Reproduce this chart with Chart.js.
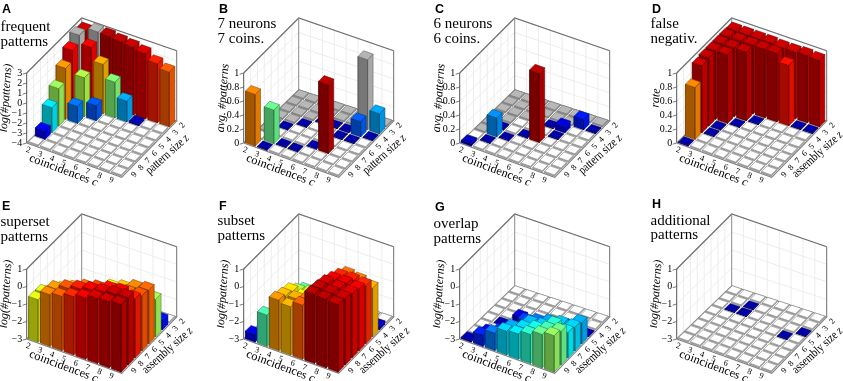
<!DOCTYPE html>
<html lang="en">
<head>
<meta charset="UTF-8">
<title>Pattern spectra</title>
<script src="https://cdn.jsdelivr.net/npm/chart.js"></script>
<style>
  html, body { margin: 0; padding: 0; background: #fff; overflow: hidden; width: 843px; height: 381px; }
  canvas { position: absolute; display: block; }
</style>
</head>
<body>
<script>
// Categories along the two floor axes
const coincidences = [2, 3, 4, 5, 6, 7, 8, 9];
const sizes = [2, 3, 4, 5, 6, 7, 8, 9];
const _ = null; // white tile, nothing found

// Series values: one row per size z (2..9), one column per coincidence c (2..9)
const valuesA = [
  [2.72, _, 2.97, 2.84, 2.72, 2.5, 1.9, 1.48],
  [_, 2.16, 0.9, -0.45, -1.93, -3.8, _, _],
  [2.15, -0.15, -2.5, _, _, _, _, _],
  [1.05, -2.3, _, _, _, _, _, _],
  [-0.28, _, _, _, _, _, _, _],
  [-1.5, _, _, _, _, _, _, _],
  [-3.15, _, _, _, _, _, _, _],
  [_, _, _, _, _, _, _, _]
];
const valuesB = [
  [_, _, _, _, _, _, _, _],
  [_, _, _, _, _, _, _, 0.29],
  [_, _, _, 0, 0, 0, 0.22, 0],
  [_, _, 0, _, _, 0, 0, _],
  [_, 0, _, _, _, _, _, _],
  [_, _, _, _, 0, 0.99, _, _],
  [_, 0.48, 0, 0, _, _, _, _],
  [0.74, 0, _, _, _, _, _, _]
];
const valuesC = [
  [_, _, _, _, _, _, _, _],
  [_, _, _, _, _, _, 0.15, 0],
  [_, _, _, _, 0, 0.09, _, _],
  [_, _, _, _, _, 0, _, _],
  [_, 0, _, 0, 0.99, _, _, _],
  [_, 0.27, 0, _, _, _, _, _],
  [_, 0, _, _, _, _, _, _],
  [0.04, _, _, _, _, _, _, _]
];
const valuesD = [
  [0.96, 0.96, 0.96, 0.96, 0.95, 0.95, 0.96, 0.95],
  [0.97, 0.97, 0.97, 0.97, 0.97, 0.86, 0, 0],
  [0.97, 0.97, 0.97, 0, _, _, _, _],
  [0.97, 0.97, 0, _, _, _, _, _],
  [0.97, 0, _, _, _, _, _, _],
  [0.95, 0, _, _, _, _, _, _],
  [0.74, _, _, _, _, _, _, _],
  [0, _, _, _, _, _, _, _]
];
const valuesE = [
  [_, _, _, _, _, _, _, _],
  [_, _, _, _, _, _, _, -2.45],
  [_, _, _, _, _, _, _, -0.85],
  [_, _, _, -0.85, -0.5, -0.3, -0.05, 0.08],
  [_, _, -0.9, -0.5, -0.3, -0.1, 0.07, 0.17],
  [_, -0.55, -0.25, 0.05, 0.25, 0.45, 0.55, 0.4],
  [-0.58, -0.12, 0.17, 0.39, 0.56, 0.7, 0.83, 0.88],
  [-0.57, -0.04, 0.11, 0.34, 0.53, 0.75, 0.81, 0.9]
];
const valuesF = [
  [_, _, _, _, _, _, _, _],
  [_, _, _, _, _, _, _, -2.8],
  [_, _, _, _, _, 0.05, -0.03, -0.21],
  [_, _, -1.15, -1, -0.3, 0.35, 0.39, 0.34],
  [_, _, -0.8, -0.7, -0.1, 0.58, 0.62, 0.55],
  [_, _, -0.4, -0.5, 0, 0.79, 0.74, 0.69],
  [_, _, -0.26, -0.2, 0, 0.9, 0.88, 0.83],
  [-2.55, -1.2, -0.1, -0.23, 0.11, 0.98, 0.94, 0.89]
];
const valuesG = [
  [_, _, _, _, _, _, _, _],
  [_, _, _, _, _, _, _, _],
  [_, _, _, _, _, _, _, -2.95],
  [_, _, -2.67, _, _, -2.45, -2.25, -1.8],
  [_, -2.97, _, -2.25, -2.05, -1.85, -1.7, -1.65],
  [_, _, -2.65, -2.35, -1.75, -1.68, -1.34, -1.53],
  [_, -2.6, -2.33, -1.83, -1.63, -1.42, -1.22, -1.06],
  [-2.9, -2.36, -2.0, -1.64, -1.55, -1.32, -1.08, -0.9]
];
const valuesH = [
  [_, _, _, _, _, _, _, _],
  [_, _, -3, _, _, _, _, _],
  [_, -3, -3, _, _, _, _, -3],
  [_, _, _, _, _, _, -3, _],
  [_, _, _, _, _, _, _, _],
  [_, _, _, _, _, _, _, _],
  [_, _, _, _, _, _, _, _],
  [_, _, _, _, _, _, _, _]
];

// Gray bars [c, z, value]
const grayBarsA = [[2, 3, 2.95], [3, 2, 3.0]];
const grayBarsB = [[8, 3, 1.0]];
// Gray flat tiles in B and C: for z = 2..7 the last c that is gray
const grayTileLastC = [9, 9, 4, 3, 2, 2];

// Tick labels of the vertical axes
const ticksLog7 = [-4, -3, -2, -1, 0, 1, 2, 3];
const ticksLog4 = [-3, -2, -1, 0, 1];
const ticksRate = [0, 0.2, 0.4, 0.6, 0.8, 1];

// Panel texts
const panelLetters = ['A', 'B', 'C', 'D', 'E', 'F', 'G', 'H'];
const panelTitles = [
  ['frequent', 'patterns'], ['7 neurons', '7 coins.'], ['6 neurons', '6 coins.'], ['false', 'negativ.'],
  ['superset', 'patterns'], ['subset', 'patterns'], ['overlap', 'patterns'], ['additional', 'patterns']
];
const yLabels = ['log(#patterns)', 'avg. #patterns', 'avg. #patterns', 'rate',
  'log(#patterns)', 'log(#patterns)', 'log(#patterns)', 'log(#patterns)'];
const zLabels = ['pattern size', 'pattern size', 'pattern size', 'assembly size',
  'assembly size', 'assembly size', 'assembly size', 'assembly size'];

// Layout of the panels on the page
const colX = [0, 217, 433, 650];
const colW = [217, 216, 217, 193];
const rowY = [0, 196];
const rowH = [196, 185];
const titleY = [[31, 46], [28, 43], [28, 43], [28, 43], [30, 45], [29, 44], [32, 47], [29, 43]];
const letterY = [12.5, 12.5, 12.5, 12.5, 14, 14, 14.5, 12];

// Floor corners of the box and wall height at each of them
const BACK = { x: 81.7, y: 90, h: 72 };
const RIGHT = { x: 176.7, y: 121, h: 70.3 };
const LEFT = { x: 26.7, y: 143, h: 70 };
const FRONT = { x: 121.7, y: 177.3, h: 69.3 };

// Project a floor position (c, z) and a fraction of the box height to the panel plane
function project(c, z, frac) {
  const u = (c - 1.5) / 8;
  const v = (z - 1.5) / 8;
  const mix = key => BACK[key] * (1 - u) * (1 - v) + RIGHT[key] * u * (1 - v) +
    LEFT[key] * (1 - u) * v + FRONT[key] * u * v;
  return { x: mix('x'), y: mix('y') - frac * mix('h') };
}

// Jet style colour map, t in 0..1
const jetStops = [
  [0, 0, 0, 170], [0.125, 0, 0, 255], [0.375, 0, 255, 255],
  [0.625, 255, 255, 0], [0.875, 255, 0, 0], [1, 185, 0, 0]
];
function jet(t) {
  t = Math.max(0, Math.min(1, t));
  for (let i = 1; i < jetStops.length; i++) {
    if (t <= jetStops[i][0]) {
      const a = jetStops[i - 1], b = jetStops[i];
      const f = (t - a[0]) / (b[0] - a[0]);
      return [1, 2, 3].map(k => a[k] + (b[k] - a[k]) * f);
    }
  }
  return jetStops[5].slice(1);
}
function shade(rgb, k) {
  return 'rgb(' + rgb.map(x => Math.round(x * k)).join(',') + ')';
}

// One polygon or polyline as a scatter dataset
function shape(points, fillColor, lineColor, lineWidth) {
  return {
    data: points,
    showLine: true,
    pointRadius: 0,
    tension: 0,
    borderColor: lineColor,
    borderWidth: lineWidth,
    polygonFill: fillColor
  };
}

function barShapes(c, z, frac, top, left, right, edge, edgeWidth) {
  const w = 0.4;
  const a0 = project(c - w, z + w, 0), b0 = project(c + w, z + w, 0), d0 = project(c + w, z - w, 0);
  const a1 = project(c - w, z + w, frac), b1 = project(c + w, z + w, frac);
  const d1 = project(c + w, z - w, frac), e1 = project(c - w, z - w, frac);
  return [
    shape([a0, b0, b1, a1, a0], left, edge, edgeWidth),
    shape([b0, d0, d1, b1, b0], right, edge, edgeWidth),
    shape([a1, b1, d1, e1, a1], top, edge, edgeWidth)
  ];
}

function wallShapes(vmin, vmax, ticks) {
  const out = [];
  const pos = (a, b, t, f) => {
    const mix = key => a[key] + (b[key] - a[key]) * t;
    return { x: mix('x'), y: mix('y') - f * mix('h') };
  };
  const walls = [[LEFT, BACK], [BACK, RIGHT]];
  walls.forEach(([a, b]) => {
    out.push(shape([pos(a, b, 0, 0), pos(a, b, 1, 0), pos(a, b, 1, 1), pos(a, b, 0, 1), pos(a, b, 0, 0)], '#fff', '#fff', 0));
    for (let i = 1; i < 8; i++) {
      out.push(shape([pos(a, b, i / 8, 0), pos(a, b, i / 8, 1)], null, '#e8e8e8', 0.8));
    }
    ticks.forEach(tick => {
      const f = (tick - vmin) / (vmax - vmin);
      out.push(shape([pos(a, b, 0, f), pos(a, b, 1, f)], null, '#e8e8e8', 0.8));
    });
  });
  // box outline
  out.push(shape([pos(LEFT, BACK, 0, 1), pos(LEFT, BACK, 1, 1), pos(BACK, RIGHT, 1, 1)], null, '#6e6e6e', 1.2));
  out.push(shape([pos(BACK, RIGHT, 0, 0), pos(BACK, RIGHT, 0, 1)], null, '#8a8a8a', 1));
  out.push(shape([pos(BACK, RIGHT, 1, 0), pos(BACK, RIGHT, 1, 1)], null, '#6e6e6e', 1));
  out.push(shape([pos(LEFT, BACK, 0, 0), pos(LEFT, BACK, 0, 1)], null, '#555', 1));
  // axis ticks on the left edge
  ticks.forEach(tick => {
    const f = (tick - vmin) / (vmax - vmin);
    const p = pos(LEFT, BACK, 0, f);
    out.push(shape([p, { x: p.x - 4, y: p.y + 1.2 }], null, '#555', 0.8));
  });
  // floor
  out.push(shape([LEFT, BACK, RIGHT, FRONT, LEFT].map(p => ({ x: p.x, y: p.y })), '#fff', '#808080', 1.1));
  return out;
}

function buildDatasets(values, vmin, vmax, ticks, grayBars, grayTiles) {
  let sets = wallShapes(vmin, vmax, ticks);
  sizes.forEach((z, row) => {
    coincidences.forEach((c, col) => {
      const value = values[row][col];
      const gray = grayBars.find(g => g[0] === c && g[1] === z);
      if (gray) {
        const f = (gray[2] - vmin) / (vmax - vmin);
        sets = sets.concat(barShapes(c, z, f, '#b4b4b4', '#777777', '#a8a8a8', '#555', 0.5));
      } else if (value !== null) {
        const t = (value - vmin) / (vmax - vmin);
        const rgb = jet(t);
        const f = Math.max(t, 0.012);
        sets = sets.concat(barShapes(c, z, f, shade(rgb, 1), shade(rgb, 0.64), shade(rgb, 0.88), shade(rgb, 0.45), 0.5));
      } else if (grayTiles && row < grayTiles.length && c <= grayTiles[row]) {
        sets = sets.concat(barShapes(c, z, 0.018, '#b8b8b8', '#808080', '#808080', '#808080', 0.8));
      } else {
        sets = sets.concat(barShapes(c, z, 0.018, '#ffffff', '#909090', '#909090', '#989898', 0.8));
      }
    });
  });
  return sets;
}

// Fill each dataset as a closed polygon before its outline is drawn
const polygonFill = {
  id: 'polygonFill',
  beforeDatasetDraw(chart, args) {
    const color = chart.data.datasets[args.index].polygonFill;
    if (!color) return;
    const ctx = chart.ctx;
    ctx.save();
    ctx.beginPath();
    args.meta.data.forEach((pt, i) => i ? ctx.lineTo(pt.x, pt.y) : ctx.moveTo(pt.x, pt.y));
    ctx.closePath();
    ctx.fillStyle = color;
    ctx.fill();
    ctx.restore();
  }
};

function text(ctx, str, x, y, font, angle, align) {
  ctx.save();
  ctx.translate(x, y);
  ctx.rotate((angle || 0) * Math.PI / 180);
  ctx.font = font;
  ctx.textAlign = align || 'left';
  ctx.fillText(str, 0, 0);
  ctx.restore();
}

// Centered rotated label with an italic variable at its end
function axisLabel(ctx, str, variable, x, y, size, angle, squeeze) {
  ctx.save();
  ctx.translate(x, y);
  ctx.rotate(angle * Math.PI / 180);
  ctx.scale(squeeze, 1);
  ctx.textBaseline = 'middle';
  const normal = size + 'px "Liberation Serif"';
  const italic = 'italic ' + size + 'px "Liberation Serif"';
  ctx.font = normal;
  const w1 = ctx.measureText(str + ' ').width;
  ctx.font = italic;
  const w2 = ctx.measureText(variable).width;
  const start = -(w1 + w2) / 2;
  ctx.fillText(variable, start + w1, 0);
  ctx.font = normal;
  ctx.fillText(str + ' ', start, 0);
  ctx.restore();
}

const panelTexts = {
  id: 'panelTexts',
  afterDraw(chart, args, opts) {
    const ctx = chart.ctx;
    const sx = chart.scales.x, sy = chart.scales.y;
    const px = p => ({ x: sx.getPixelForValue(p.x), y: sy.getPixelForValue(p.y) });
    ctx.save();
    ctx.fillStyle = '#000';
    ctx.textBaseline = 'alphabetic';
    text(ctx, opts.letter, 2, opts.letterY, 'bold 12.5px "Liberation Sans"');
    opts.title.forEach((line, i) => text(ctx, line, 0.5, opts.titleY[i], '15px "Liberation Serif"'));
    // vertical axis
    ctx.textBaseline = 'middle';
    opts.ticks.forEach(tick => {
      const f = (tick - opts.vmin) / (opts.vmax - opts.vmin);
      const p = px({ x: LEFT.x, y: LEFT.y - f * LEFT.h });
      const label = String(tick).replace('-', '\u2212');
      text(ctx, label, p.x - 4.5, p.y, '10px "Liberation Serif"', 0, 'right');
    });
    text(ctx, opts.yLabel, 6, 98, 'italic 12px "Liberation Serif"', -86, 'center');
    // floor axes
    coincidences.forEach(c => {
      const p = project(c, 9.5, 0);
      const q = px({ x: p.x - 4.5, y: p.y + 5 });
      text(ctx, String(c), q.x, q.y, '8.5px "Liberation Serif"', 20, 'center');
    });
    sizes.forEach(z => {
      const p = project(9.5, z, 0);
      const q = px({ x: p.x + 9, y: p.y + 1 });
      text(ctx, String(z), q.x, q.y, '8.5px "Liberation Serif"', -48, 'center');
    });
    axisLabel(ctx, 'coincidences', 'c', 63.5, 170.5, 12, 20.5, 1.03);
    axisLabel(ctx, opts.zLabel, 'z', 167.5, 154.5, 12.5, -42, 0.82);
    ctx.restore();
  }
};

function drawPanel(index, values, vmin, vmax, ticks, grayBars, grayTiles) {
  const col = index % 4, row = Math.floor(index / 4);
  const canvas = document.createElement('canvas');
  canvas.width = colW[col];
  canvas.height = rowH[row];
  canvas.style.left = colX[col] + 'px';
  canvas.style.top = rowY[row] + 'px';
  document.body.appendChild(canvas);
  // Chart.js paints the first dataset on top, so the painter's order is reversed here
  const datasets = buildDatasets(values, vmin, vmax, ticks, grayBars, grayTiles).reverse();
  new Chart(canvas.getContext('2d'), {
    type: 'scatter',
    data: { datasets },
    options: {
      responsive: false,
      animation: false,
      layout: { padding: 0 },
      scales: {
        x: { type: 'linear', display: false, min: 0, max: colW[col] },
        y: { type: 'linear', display: false, min: 0, max: rowH[row], reverse: true }
      },
      plugins: {
        legend: { display: false },
        tooltip: { enabled: false },
        panelTexts: {
          letter: panelLetters[index], title: panelTitles[index], titleY: titleY[index],
          letterY: letterY[index], yLabel: yLabels[index], zLabel: zLabels[index],
          ticks, vmin, vmax
        }
      }
    },
    plugins: [polygonFill, panelTexts]
  });
}

drawPanel(0, valuesA, -4, 3, ticksLog7, grayBarsA, null);
drawPanel(1, valuesB, 0, 1, ticksRate, grayBarsB, grayTileLastC);
drawPanel(2, valuesC, 0, 1, ticksRate, [], grayTileLastC);
drawPanel(3, valuesD, 0, 1, ticksRate, [], null);
drawPanel(4, valuesE, -3, 1, ticksLog4, [], null);
drawPanel(5, valuesF, -3, 1, ticksLog4, [], null);
drawPanel(6, valuesG, -3, 1, ticksLog4, [], null);
drawPanel(7, valuesH, -3, 1, ticksLog4, [], null);
</script>
</body>
</html>
